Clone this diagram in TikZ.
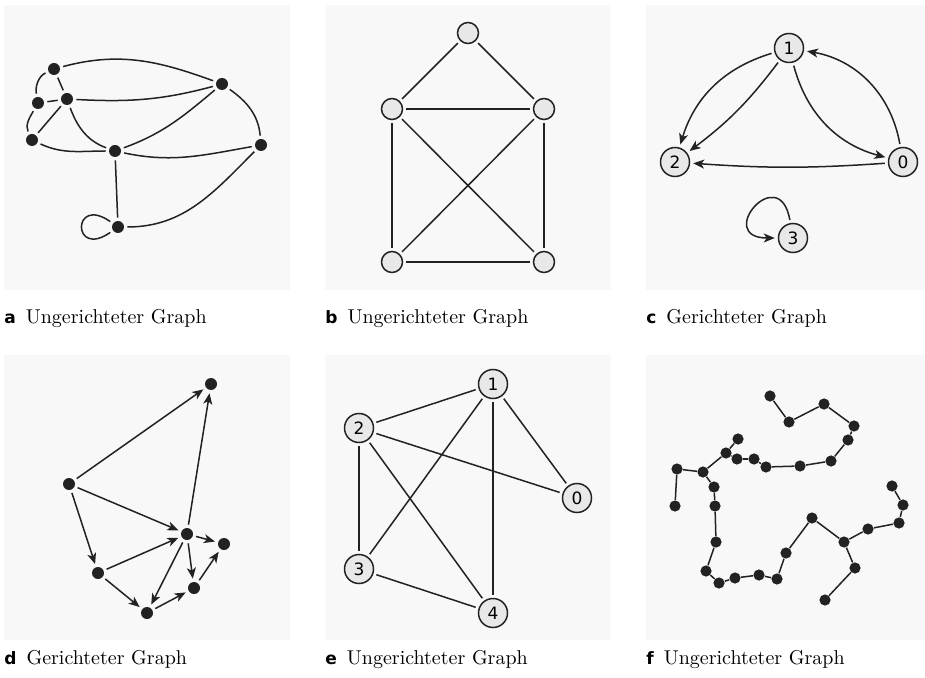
\documentclass[tikz,border=0pt]{standalone}
\usepackage{fontspec}
\setsansfont{DejaVu Sans}
\usetikzlibrary{arrows.meta}
\definecolor{panelbg}{HTML}{F8F8F8}
\definecolor{nodefill}{HTML}{E8E8E8}
\definecolor{ink}{HTML}{222222}
\newcommand{\panelkey}[1]{{\sffamily\bfseries\fontsize{8.5}{8.5}\selectfont #1}\hspace{5pt}}
\begin{document}
\begin{tikzpicture}[x=0.5pt,y=0.5pt,
  dot/.style={circle,fill=ink,inner sep=0pt,minimum size=6pt},
  ring/.style={circle,draw=ink,fill=nodefill,line width=0.75pt,inner sep=0pt,minimum size=10.5pt},
  numring/.style={ring,minimum size=14.5pt,font=\sffamily\fontsize{8.5}{8.5}\selectfont},
  link/.style={draw=ink,line width=0.75pt,shorten <=1.5pt,shorten >=1.5pt},
  arc/.style={link,-{Stealth[length=5.5pt,width=4.5pt,inset=1.5pt]}},
  caption/.style={anchor=base west,inner sep=0pt,font=\fontsize{10}{12}\selectfont}]
\useasboundingbox (0,0) rectangle (925,-678);
% panels
\foreach \px/\py in {4/-5,325/-5,646/-5,4/-355,325/-355,646/-355}
  \fill[panelbg] (\px,\py) rectangle ++(286,-285);

% a
\node[dot] (a1) at (54,-69) {};
\node[dot] (a2) at (222,-84) {};
\node[dot] (a3) at (38,-103) {};
\node[dot] (a4) at (67,-99) {};
\node[dot] (a5) at (32,-140) {};
\node[dot] (a6) at (115,-151) {};
\node[dot] (a7) at (261,-145) {};
\node[dot] (a8) at (118,-227) {};
\draw[link] (a1) to[out=15,in=160] (a2);
\draw[link] (a1) -- (a4);
\draw[link] (a1) to[out=205,in=100] (a3);
\draw[link] (a3) -- (a4);
\draw[link] (a3) to[out=240,in=115] (a5);
\draw[link] (a4) -- (a5);
\draw[link] (a4) to[out=-3,in=195] (a2);
\draw[link] (a4) to[out=-70,in=160] (a6);
\draw[link] (a5) to[out=-25,in=180] (a6);
\draw[link] (a6) to[out=20,in=-140] (a2);
\draw[link] (a6) to[out=-12,in=190] (a7);
\draw[link] (a2) to[out=-35,in=95] (a7);
\draw[link] (a6) -- (a8);
\draw[link] (a8) to[out=0,in=-135] (a7);
\draw[link] (a8) to[out=145,in=215,min distance=25pt] (a8);

% b
\node[ring] (b1) at (468,-33) {};
\node[ring] (b2) at (392,-109) {};
\node[ring] (b3) at (544,-109) {};
\node[ring] (b4) at (392,-262) {};
\node[ring] (b5) at (544,-262) {};
\foreach \u/\v in {b1/b2,b1/b3,b2/b3,b2/b4,b2/b5,b3/b4,b3/b5,b4/b5}
  \draw[link] (\u) -- (\v);

% c
\node[numring] (c1) at (789,-48) {1};
\node[numring] (c2) at (675,-162) {2};
\node[numring] (c0) at (903,-162) {0};
\node[numring] (c3) at (793,-238) {3};
\draw[arc] (c1) to[bend right=28] (c2);
\draw[arc] (c1) to[bend left=8] (c2);
\draw[arc] (c1) to[bend right=30] (c0);
\draw[arc] (c0) to[bend right=35] (c1);
\draw[arc] (c0) to[bend left=4] (c2);
\draw[arc] (c3) to[out=100,in=180,min distance=32pt] (c3);

% d
\node[dot] (d1) at (211,-384) {};
\node[dot] (d2) at (69,-484) {};
\node[dot] (d3) at (187,-534) {};
\node[dot] (d4) at (224,-544) {};
\node[dot] (d5) at (98,-573) {};
\node[dot] (d6) at (194,-588) {};
\node[dot] (d7) at (147,-613) {};
\foreach \u/\v in {d2/d1,d2/d3,d2/d5,d3/d1,d3/d4,d3/d6,d3/d7,d5/d3,d5/d7,d7/d6,d6/d4}
  \draw[arc] (\u) -- (\v);

% e
\node[numring] (e1) at (493,-384) {1};
\node[numring] (e2) at (359,-428) {2};
\node[numring] (e0) at (577,-498) {0};
\node[numring] (e3) at (359,-569) {3};
\node[numring] (e4) at (493,-613) {4};
\foreach \u/\v in {e1/e2,e1/e3,e1/e4,e1/e0,e2/e0,e2/e3,e2/e4,e3/e4}
  \draw[link] (\u) -- (\v);

% f
\foreach \n/\x/\y in {1/770/396,2/789/422,3/824/404,4/854/426,5/848/440,6/831/461,
  7/800/466,8/766/467,9/754/459,10/737/459,11/726/453,12/738/439,13/703/472,
  14/677/469,15/675/506,16/714/487,17/715/506,18/716/542,19/706/571,20/719/583,
  21/735/578,22/759/575,23/777/579,24/786/553,25/812/518,26/844/542,27/855/568,
  28/825/600,29/868/529,30/899/523,31/903/505,32/892/486}
  \node[dot,minimum size=5.6pt] (f\n) at (\x,-\y) {};
\foreach \u/\v in {1/2,2/3,3/4,4/5,5/6,6/7,7/8,8/9,9/10,10/11,11/12,11/13,13/14,
  14/15,13/16,16/17,17/18,18/19,19/20,20/21,21/22,22/23,23/24,24/25,25/26,
  26/27,27/28,26/29,29/30,30/31,31/32}
  \draw[ink,line width=0.75pt] (f\u) -- (f\v);

% captions
\node[caption] (capa) at (4,-324) {\panelkey{a}Ungerichteter Graph};
\node[caption] (capb) at (325,-324) {\panelkey{b}Ungerichteter Graph};
\node[caption] (capc) at (646,-324) {\panelkey{c}Gerichteter Graph};
\node[caption] (capd) at (4,-664) {\panelkey{d}Gerichteter Graph};
\node[caption] (cape) at (325,-664) {\panelkey{e}Ungerichteter Graph};
\node[caption] (capf) at (646,-664) {\panelkey{f}Ungerichteter Graph};
\end{tikzpicture}
\end{document}
